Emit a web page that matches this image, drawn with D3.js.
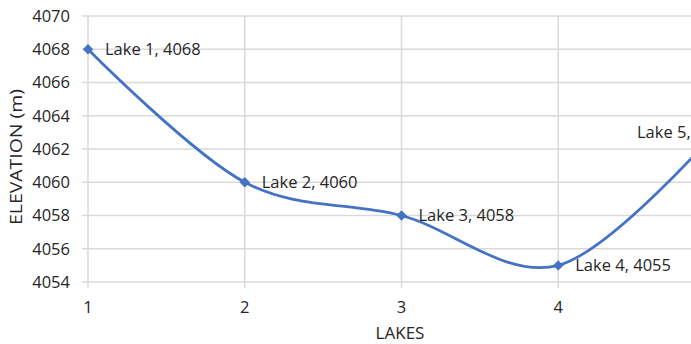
<!DOCTYPE html>
<html><head><meta charset="utf-8">
<script src="https://cdn.jsdelivr.net/npm/d3@7"></script>
<style>body{margin:0;background:#fff;overflow:hidden}</style>
</head><body>
<script>
const lakes = [1, 2, 3, 4, 5];
const lakeNames = ["Lake 1", "Lake 2", "Lake 3", "Lake 4", "Lake 5"];
const elevations = [4068, 4060, 4058, 4055, 4063];
const yTicks = [4054, 4056, 4058, 4060, 4062, 4064, 4066, 4068, 4070];
const xTicks = [1, 2, 3, 4];

const W = 691, H = 344;
const svg = d3.select("body").append("svg").attr("width", W).attr("height", H)
  .style("font-family", "'Open Sans', sans-serif").style("display", "block");

const x = d3.scaleLinear().domain([1, 5]).range([88, 715]);
const y = d3.scaleLinear().domain([4054, 4070]).range([282, 16]);
const textColor = "#262626";
const gridColor = "#d9d9d9";

// horizontal gridlines
svg.append("g").selectAll("line").data(yTicks).join("line")
  .attr("x1", 82).attr("x2", W)
  .attr("y1", d => y(d)).attr("y2", d => y(d))
  .attr("stroke", gridColor).attr("stroke-width", 1.5);
// vertical gridlines
svg.append("g").selectAll("line").data(xTicks).join("line")
  .attr("x1", d => x(d)).attr("x2", d => x(d))
  .attr("y1", y(4070)).attr("y2", 288)
  .attr("stroke", gridColor).attr("stroke-width", 1.5);

// y tick labels
svg.append("g").selectAll("text").data(yTicks).join("text")
  .attr("x", 70).attr("y", d => y(d)).attr("dy", "0.36em")
  .attr("text-anchor", "end").attr("font-size", 16.5).attr("fill", textColor)
  .text(d => d);
// x tick labels
svg.append("g").selectAll("text").data(xTicks).join("text")
  .attr("x", d => x(d)).attr("y", 313)
  .attr("text-anchor", "middle").attr("font-size", 16.5).attr("fill", textColor)
  .text(d => d);

// axis titles
svg.append("text").attr("transform", `translate(22,157) rotate(-90)`)
  .attr("text-anchor", "middle").attr("font-size", 17).attr("fill", textColor)
  .attr("textLength", 136).attr("lengthAdjust", "spacingAndGlyphs")
  .text("ELEVATION (m)");
svg.append("text").attr("x", 400).attr("y", 339)
  .attr("text-anchor", "middle").attr("font-size", 17).attr("fill", textColor)
  .text("LAKES");

const pts = lakes.map((l, i) => ({x: l, y: elevations[i], name: lakeNames[i]}));
const line = d3.line().x(d => x(d.x)).y(d => y(d.y)).curve(d3.curveCardinal.tension(0));
svg.append("path").datum(pts).attr("d", line)
  .attr("fill", "none").attr("stroke", "#4472C4").attr("stroke-width", 2.75);

const sym = d3.symbol().type(d3.symbolDiamond2).size(70);
svg.append("g").selectAll("path").data(pts).join("path")
  .attr("transform", d => `translate(${x(d.x)},${y(d.y)})`)
  .attr("d", sym).attr("fill", "#4472C4");

svg.append("g").selectAll("text").data(pts).join("text")
  .attr("x", (d, i) => i === 4 ? x(d.x) - 78 : x(d.x) + 17)
  .attr("y", d => y(d.y)).attr("dy", "0.36em")
  .attr("font-size", 16.5).attr("fill", textColor)
  .text(d => `${d.name}, ${d.y}`);
</script>
</body></html>
